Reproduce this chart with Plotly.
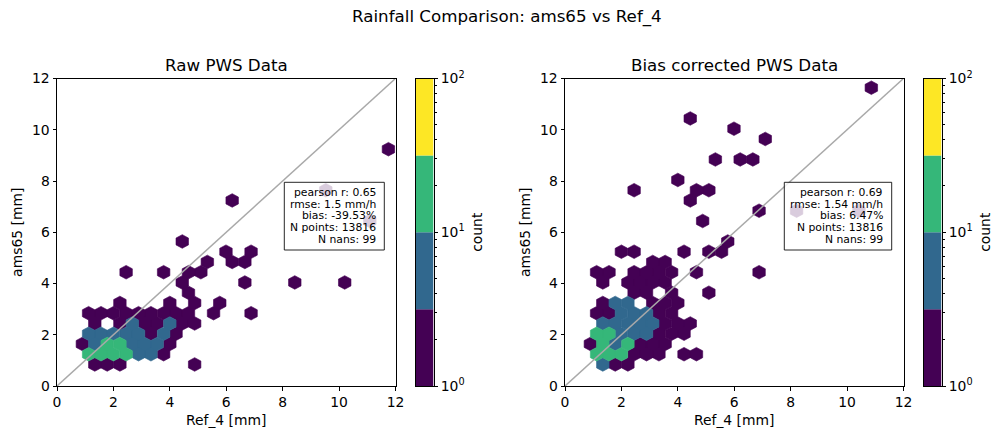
import plotly.graph_objects as go

# ---------------- data (hexbin cell centres) ----------------
# Raw PWS Data panel
raw_x = [1.34, 1.78, 2.23, 4.88,
         1.12, 1.56, 2.00, 2.45, 2.89, 3.33, 3.78,
         0.90, 1.34, 1.78, 2.23, 2.67, 3.11, 3.55, 4.00,
         1.12, 1.56, 2.00, 2.45, 2.89, 3.33, 3.78, 4.22,
         1.34, 2.23, 2.67, 3.11, 3.55, 4.00, 4.44, 4.88,
         1.12, 1.56, 2.00, 2.45, 2.89, 3.33, 3.78, 4.22, 4.66, 5.55, 6.88,
         2.23, 4.00, 4.88, 5.77,
         4.66,
         4.44, 6.66, 8.43, 10.20,
         2.45, 3.78, 4.66, 5.10,
         5.33, 6.21, 6.66,
         5.99, 6.88,
         4.44,
         11.09,
         6.21,
         9.53,
         11.75]
raw_y = [0.84, 0.84, 0.84, 0.84,
         1.24, 1.24, 1.24, 1.24, 1.24, 1.24, 1.24,
         1.64, 1.64, 1.64, 1.64, 1.64, 1.64, 1.64, 1.64,
         2.04, 2.04, 2.04, 2.04, 2.04, 2.04, 2.04, 2.04,
         2.44, 2.44, 2.44, 2.44, 2.44, 2.44, 2.44, 2.44,
         2.84, 2.84, 2.84, 2.84, 2.84, 2.84, 2.84, 2.84, 2.84, 2.84, 2.84,
         3.24, 3.24, 3.24, 3.24,
         3.64,
         4.04, 4.04, 4.04, 4.04,
         4.44, 4.44, 4.44, 4.44,
         4.84, 4.84, 4.84,
         5.24, 5.24,
         5.64,
         6.44,
         7.24,
         7.64,
         9.24]
raw_count = [2, 2, 2, 1,
             14, 18, 15, 12, 6, 5, 2,
             1, 6, 13, 11, 7, 5, 4, 1,
             5, 7, 8, 6, 5, 3, 4, 1,
             2, 3, 4, 3, 2, 4, 2, 1,
             1, 2, 2, 3, 2, 2, 1, 1, 1, 1, 1,
             1, 1, 1, 1,
             1,
             1, 1, 1, 1,
             1, 1, 1, 1,
             1, 1, 1,
             1, 1,
             1,
             1,
             1,
             1,
             1]

# Bias corrected PWS Data panel
cor_x = [1.34, 1.78, 2.23,
         1.12, 1.56, 2.00, 2.45, 2.89, 3.33, 4.22, 4.66,
         0.90, 1.34, 1.78, 2.23, 2.67, 3.11, 3.55,
         1.12, 1.56, 2.00, 2.45, 2.89, 3.33, 3.78, 4.22,
         1.34, 1.78, 2.23, 2.67, 3.11, 3.55, 4.00, 4.44,
         1.12, 1.56, 2.00, 2.45, 2.89, 3.33, 3.78,
         1.34, 1.78, 2.23, 3.11, 3.55, 4.00,
         2.45, 2.89, 3.78, 5.10,
         1.34, 2.23, 2.67, 3.11, 3.55,
         1.12, 1.56, 2.45, 2.89, 3.33, 3.78, 4.66, 6.88,
         3.11, 3.55,
         2.00, 2.45, 4.22, 5.10, 5.55,
         5.77,
         4.88,
         6.88, 8.21, 10.42,
         4.44,
         2.45, 4.66, 5.10,
         4.00,
         5.33, 6.21, 6.66,
         7.10,
         5.99,
         4.44,
         10.86]
cor_y = [0.84, 0.84, 0.84,
         1.24, 1.24, 1.24, 1.24, 1.24, 1.24, 1.24, 1.24,
         1.64, 1.64, 1.64, 1.64, 1.64, 1.64, 1.64,
         2.04, 2.04, 2.04, 2.04, 2.04, 2.04, 2.04, 2.04,
         2.44, 2.44, 2.44, 2.44, 2.44, 2.44, 2.44, 2.44,
         2.84, 2.84, 2.84, 2.84, 2.84, 2.84, 2.84,
         3.24, 3.24, 3.24, 3.24, 3.24, 3.24,
         3.64, 3.64, 3.64, 3.64,
         4.04, 4.04, 4.04, 4.04, 4.04,
         4.44, 4.44, 4.44, 4.44, 4.44, 4.44, 4.44, 4.44,
         4.84, 4.84,
         5.24, 5.24, 5.24, 5.24, 5.24,
         5.64,
         6.44,
         6.84, 6.84, 6.84,
         7.24,
         7.64, 7.64, 7.64,
         8.04,
         8.84, 8.84, 8.84,
         9.64,
         10.04,
         10.44,
         11.64]
cor_count = [4, 2, 1,
             12, 16, 11, 3, 2, 1, 1, 1,
             1, 13, 6, 11, 3, 2, 1,
             15, 12, 7, 5, 4, 2, 2, 1,
             4, 6, 7, 5, 4, 3, 2, 1,
             2, 2, 5, 6, 4, 3, 1,
             1, 5, 4, 2, 1, 1,
             2, 1, 1, 1,
             1, 2, 1, 2, 1,
             1, 1, 1, 1, 1, 1, 1, 1,
             1, 1,
             1, 1, 1, 1, 1,
             1,
             1,
             1, 1, 1,
             1,
             1, 1, 1,
             1,
             1, 1, 1,
             1,
             1,
             1,
             1]

stats_raw = ["pearson r: 0.65", "rmse: 1.5 mm/h", "bias: -39.53%", "N points: 13816", "N nans: 99"]
stats_cor = ["pearson r: 0.69", "rmse: 1.54 mm/h", "bias: 6.47%", "N points: 13816", "N nans: 99"]

bin_edges = [1, 10 ** 0.5, 10, 10 ** 1.5, 100]
bin_colors = ["#440154", "#31688e", "#35b779", "#fde725"]
colorbar_ticks = [1, 10, 100]
colorbar_ticktext = ["10<sup>0</sup>", "10<sup>1</sup>", "10<sup>2</sup>"]
axis_ticks = [0, 2, 4, 6, 8, 10, 12]

# ---------------- geometry / style ----------------
W, H = 1003, 439
SX, SY = 0.443, 0.8          # hex grid spacing (data units)
FONT = "DejaVu Sans"


def px(x):
    return x / W


def py(y):
    return 1 - y / H


def bin_index(c):
    for i in range(len(bin_edges) - 1):
        if c < bin_edges[i + 1]:
            return i
    return len(bin_edges) - 2


def hex_traces(xs, ys, cs, xa, ya):
    traces = []
    offs = [(0.5, -1 / 6), (0.5, 1 / 6), (0, 1 / 3), (-0.5, 1 / 6), (-0.5, -1 / 6), (0, -1 / 3), (0.5, -1 / 6)]
    for b, col in enumerate(bin_colors):
        hx, hy = [], []
        for x, y, c in zip(xs, ys, cs):
            if bin_index(c) != b:
                continue
            for dx, dy in offs:
                hx.append(x + dx * SX)
                hy.append(y + dy * SY)
            hx.append(None)
            hy.append(None)
        if hx:
            traces.append(go.Scatter(x=hx, y=hy, mode="lines", fill="toself", fillcolor=col,
                                     line=dict(color=col, width=0.6), xaxis=xa, yaxis=ya,
                                     hoverinfo="skip", showlegend=False))
    return traces


fig = go.Figure()

for xs, ys, cs, xa, ya in [(raw_x, raw_y, raw_count, "x", "y"), (cor_x, cor_y, cor_count, "x2", "y2")]:
    for t in hex_traces(xs, ys, cs, xa, ya):
        fig.add_trace(t)
    fig.add_trace(go.Scatter(x=[0, 12], y=[0, 12], mode="lines", line=dict(color="#a9a9a9", width=1.5),
                             xaxis=xa, yaxis=ya, hoverinfo="skip", showlegend=False))

# colorbars (discrete log colour bins)
for xa, ya in [("x3", "y3"), ("x4", "y4")]:
    for i, col in enumerate(bin_colors):
        lo, hi = bin_edges[i], bin_edges[i + 1]
        fig.add_trace(go.Scatter(x=[0, 1, 1, 0, 0], y=[lo, lo, hi, hi, lo], mode="lines", fill="toself",
                                 fillcolor=col, line=dict(color=col, width=0), xaxis=xa, yaxis=ya,
                                 hoverinfo="skip", showlegend=False))

ydom = [py(386), py(78.5)]
main_ax = dict(range=[0, 12], tickvals=axis_ticks, ticks="outside", ticklen=3.5, tickwidth=1,
               tickcolor="black", showline=True, linecolor="black", linewidth=1, mirror=True,
               showgrid=False, zeroline=False, automargin=False,
               tickfont=dict(size=13.9, color="black", family=FONT))
title_font = dict(size=13.9, color="black", family=FONT)

fig.update_layout(
    width=W, height=H, margin=dict(l=0, r=0, t=0, b=0, autoexpand=False),
    paper_bgcolor="white", plot_bgcolor="white",
    font=dict(family=FONT, color="black"),
    xaxis=dict(main_ax, domain=[px(57), px(395.5)], anchor="y",
               title=dict(text="Ref_4 [mm]", font=title_font, standoff=6)),
    yaxis=dict(main_ax, domain=ydom, anchor="x",
               title=dict(text="ams65 [mm]", font=title_font, standoff=6)),
    xaxis2=dict(main_ax, domain=[px(565), px(903.5)], anchor="y2",
                title=dict(text="Ref_4 [mm]", font=title_font, standoff=6)),
    yaxis2=dict(main_ax, domain=ydom, anchor="x2",
                title=dict(text="ams65 [mm]", font=title_font, standoff=6)),
)

cb_y = dict(type="log", range=[0, 2], side="right", tickvals=colorbar_ticks, ticktext=colorbar_ticktext,
            ticks="outside", ticklen=3.5, tickwidth=1, tickcolor="black", showline=True,
            linecolor="black", linewidth=1, mirror=True, showgrid=False, zeroline=False, automargin=False,
            tickfont=dict(size=13.9, color="black", family=FONT),
            minor=dict(ticks="outside", ticklen=2, tickwidth=0.8, tickcolor="black", showgrid=False,
                       tickvals=[2, 3, 4, 5, 6, 7, 8, 9, 20, 30, 40, 50, 60, 70, 80, 90]),
            title=dict(text="count", font=title_font, standoff=8))
cb_x = dict(range=[0, 1], showticklabels=False, ticks="", showline=True, linecolor="black", linewidth=1,
            mirror=True, showgrid=False, zeroline=False, fixedrange=True, automargin=False)

fig.update_layout(
    xaxis3=dict(cb_x, domain=[px(416), px(433.5)], anchor="y3"),
    yaxis3=dict(cb_y, domain=ydom, anchor="x3"),
    xaxis4=dict(cb_x, domain=[px(924), px(941.5)], anchor="y4"),
    yaxis4=dict(cb_y, domain=ydom, anchor="x4"),
)

annotations = [
    dict(text="Rainfall Comparison: ams65 vs Ref_4", x=px(507), y=py(17), xref="paper", yref="paper",
         showarrow=False, xanchor="center", yanchor="middle", font=dict(size=16.7, family=FONT, color="black")),
    dict(text="Raw PWS Data", x=px(226.25), y=py(64.5), xref="paper", yref="paper",
         showarrow=False, xanchor="center", yanchor="middle", font=dict(size=16.7, family=FONT, color="black")),
    dict(text="Bias corrected PWS Data", x=px(734.25), y=py(64.5), xref="paper", yref="paper",
         showarrow=False, xanchor="center", yanchor="middle", font=dict(size=16.7, family=FONT, color="black")),
]

# stats boxes: semi-transparent white box with black edge, right-aligned lines
shapes = []
line_centres = [192.3, 204.2, 216.0, 227.5, 239.0]
for lines, box_l, box_r, text_r in [(stats_raw, 284.3, 384.3, 378.0), (stats_cor, 784.3, 891.7, 885.3)]:
    shapes.append(dict(type="rect", xref="paper", yref="paper", x0=px(box_l), x1=px(box_r),
                       y0=py(250.0), y1=py(182.3), fillcolor="rgba(255,255,255,0.8)",
                       line=dict(color="rgba(0,0,0,0.85)", width=1), layer="above"))
    for txt, yc in zip(lines, line_centres):
        annotations.append(dict(text=txt, x=px(text_r), y=py(yc), xref="paper", yref="paper",
                                showarrow=False, xanchor="right", yanchor="middle", align="right",
                                font=dict(size=10.8, family=FONT, color="black")))

fig.update_layout(annotations=annotations, shapes=shapes)

fig.write_html("out.html")
